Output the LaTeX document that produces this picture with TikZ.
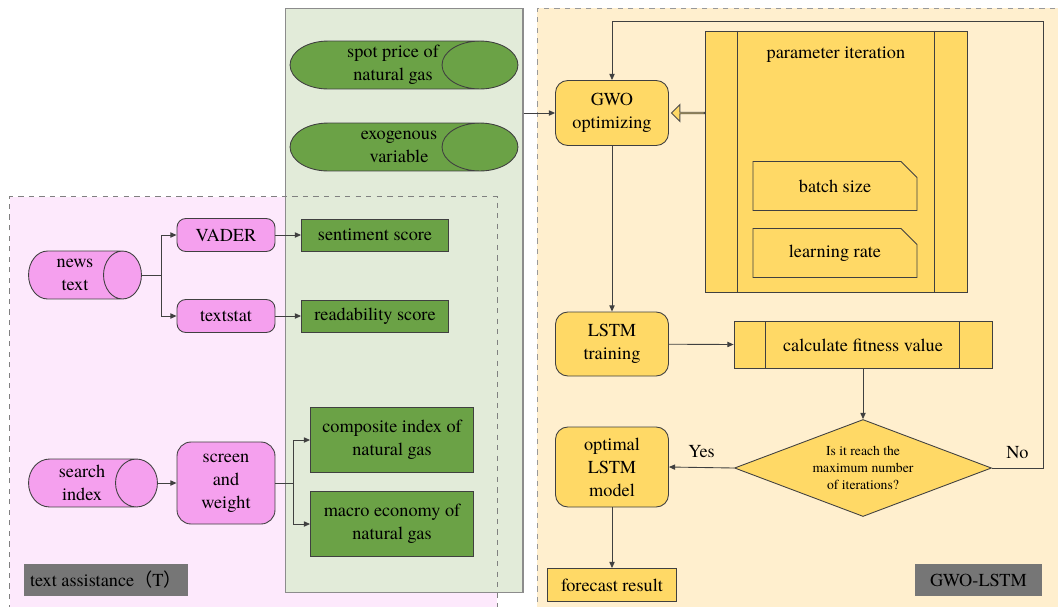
\documentclass[tikz,border=0pt]{standalone}
\usepackage{fontspec}
\setmainfont{texgyretermes}[Extension=.otf, UprightFont=*-regular, BoldFont=*-bold,
  ItalicFont=*-italic, BoldItalicFont=*-bolditalic]
\newfontfamily\cjk{Noto Sans CJK SC}
\usepackage{tikz}
\usetikzlibrary{arrows.meta,positioning,shapes.geometric,shapes.misc,shapes.arrows,calc}
\definecolor{pinkbg}{HTML}{FDE9FC}
\definecolor{greenbg}{HTML}{E2EBD9}
\definecolor{goldbg}{HTML}{FFEFCE}
\definecolor{pinknode}{HTML}{F5A0EE}
\definecolor{greennode}{HTML}{6BA246}
\definecolor{gold}{HTML}{FFD966}
\definecolor{tagfill}{HTML}{767676}

\begin{document}
\begin{tikzpicture}[x=0.02cm, y=-0.02cm,
    font=\fontsize{10.4}{13}\selectfont,
    box/.style={draw=black!75, line width=0.5pt, align=center, inner sep=1pt},
    pinkbox/.style={box, fill=pinknode, rounded corners=5pt,
                    minimum width=1.96cm, minimum height=0.66cm},
    greenbox/.style={box, fill=greennode},
    goldbox/.style={box, fill=gold, rounded corners=7pt, minimum width=2.26cm},
    drum/.style 2 args={inner sep=0pt, minimum height=0.98cm,
      path picture={
        \draw[line, fill=#1]
          ([xshift=-#2, yshift=-0.3pt]path picture bounding box.north east)
          -- ([xshift=#2, yshift=-0.3pt]path picture bounding box.north west)
          arc[start angle=90, end angle=270, x radius=#2-0.3pt, y radius=0.49cm-0.3pt]
          -- ([xshift=-#2, yshift=0.3pt]path picture bounding box.south east)
          arc[start angle=-90, end angle=90, x radius=#2-0.3pt, y radius=0.49cm-0.3pt]
          -- cycle
          ([xshift=-#2]path picture bounding box.east)
          ellipse[x radius=#2-0.3pt, y radius=0.49cm-0.3pt];
      }},
    tag/.style={fill=tagfill, minimum height=0.64cm, inner sep=2pt},
    region/.style={inner sep=0pt},
    line/.style={draw=black!75, line width=0.5pt},
    arr/.style={line, -{Triangle[length=3.5pt,width=3pt]}},
    hollow/.style={single arrow, draw=black!70, line width=0.5pt, fill=gold,
                   inner sep=0pt, minimum width=0.34cm, minimum height=0.66cm,
                   single arrow head extend=0.09cm, shape border rotate=180}
  ]
  \useasboundingbox (0,0) rectangle (1058,606);

  \node[region, fill=pinkbg, minimum width=9.74cm, minimum height=8.46cm] (textreg) at (253.5,408.5) {};
  \node[region, fill=greenbg, draw=black!45, line width=0.6pt,
        minimum width=4.76cm, minimum height=11.7cm] (inputs) at (404,300.5) {};
  \draw[draw=black!50, dashed, line width=0.6pt] (textreg.south west) -- (textreg.north west)
    -- (textreg.north east) -- (textreg.south east);
  \node[region, fill=goldbg, draw=black!40, dashed, line width=0.6pt,
        minimum width=10.66cm, minimum height=12.24cm] (modelreg) at (803.5,314) {};

  \node[drum={pinknode}{0.39cm}, minimum width=2.28cm,
        label={[align=center, xshift=-0.2cm]center:news\\text}] (news) at (85,275) {};
  \node[pinkbox] (vader) at (226,235) {VADER};
  \node[pinkbox] (textstat) at (226,316) {textstat};
  \node[greenbox, minimum width=2.94cm, minimum height=0.64cm] (senti) at (375,235) {sentiment score};
  \node[greenbox, minimum width=2.94cm, minimum height=0.64cm] (read) at (375,316) {readability score};
  \node[drum={pinknode}{0.43cm}, minimum width=2.6cm,
        label={[align=center, xshift=-0.22cm]center:search\\index}] (search) at (93,483) {};
  \node[pinkbox, rounded corners=8pt, minimum height=1.64cm] (screen) at (226,483) {screen\\and\\weight};
  \node[greenbox, minimum width=3.26cm, minimum height=1.3cm] (compo) at (392,440) {composite index of\\natural gas};
  \node[greenbox, minimum width=3.26cm, minimum height=1.3cm] (macro) at (392,524) {macro economy of\\natural gas};
  \node[tag, minimum width=3.28cm] (textlab) at (106,580) {text assistance{\cjk （}T{\cjk ）}};

  \node[drum={greennode}{0.77cm}, minimum width=4.58cm,
        label={[align=center, xshift=-0.22cm]center:spot price of\\natural gas}] (spot) at (404,65) {};
  \node[drum={greennode}{0.77cm}, minimum width=4.58cm,
        label={[align=center, xshift=-0.1cm]center:exogenous\\variable}] (exo) at (404,147) {};

  \node[goldbox, minimum height=1.3cm] (gwo) at (612,113) {GWO\\optimizing};
  \node[box, fill=gold, minimum width=5.24cm, minimum height=5.22cm,
        label={[anchor=north, yshift=-0.2cm]north:parameter iteration}] (param) at (836,161.5) {};
  \node[box, fill=gold, chamfered rectangle, chamfered rectangle corners=north east,
        chamfered rectangle xsep=0.16cm, chamfered rectangle ysep=0.16cm,
        minimum width=3.28cm, minimum height=0.98cm] (batch) at (835,186) {batch size};
  \node[box, fill=gold, chamfered rectangle, chamfered rectangle corners=north east,
        chamfered rectangle xsep=0.16cm, chamfered rectangle ysep=0.16cm,
        minimum width=3.28cm, minimum height=0.98cm] (lrate) at (835,253) {learning rate};
  \node[goldbox, minimum height=1.28cm] (lstm) at (612,344) {LSTM\\training};
  \node[box, fill=gold, minimum width=5.16cm, minimum height=0.94cm] (fit) at (863,345) {calculate fitness value};
  \node[box, diamond, fill=gold, aspect=2.65, inner sep=0pt, minimum width=5.14cm, minimum height=1.94cm,
        font=\fontsize{7.8}{9.6}\selectfont] (dec) at (863,468) {Is it reach the\\maximum number\\of iterations?};
  \node[goldbox, minimum height=1.6cm] (opt) at (612,467) {optimal\\LSTM\\model};
  \node[box, fill=gold, minimum width=2.58cm, minimum height=0.66cm] (fore) at (612,585) {forecast result};
  \node[tag, minimum width=2.54cm] (modellab) at (978.5,580) {GWO-LSTM};
  \node[hollow] (pointer) at ($(gwo.east)!0.5!(gwo.east -| param.west)+(1.5,0)$) {};
  \coordinate (loop) at (1043,21);

  \draw[line] ($(param.north west)+(33,0)$) -- ($(param.south west)+(33,0)$);
  \draw[line] ($(param.north east)+(-33,0)$) -- ($(param.south east)+(-33,0)$);
  \draw[line] ($(fit.north west)+(32,0)$) -- ($(fit.south west)+(32,0)$);
  \draw[line] ($(fit.north east)+(-33,0)$) -- ($(fit.south east)+(-33,0)$);

  \draw[arr] (news.east) -- ++(19,0) |- (vader.west);
  \draw[arr] (news.east) -- ++(19,0) |- (textstat.west);
  \draw[arr] (vader) -- (senti);
  \draw[arr] (textstat) -- (read);
  \draw[arr] (search) -- (screen);
  \draw[arr] (screen.east) -- ++(18,0) |- (compo.west);
  \draw[arr] (screen.east) -- ++(18,0) |- (macro.west);
  \draw[arr] (gwo.west -| inputs.east) -- (gwo.west);
  \draw[arr] (gwo) -- (lstm);
  \draw[arr] (lstm) -- (fit);
  \draw[arr] (fit) -- (dec);
  \draw[arr] (dec.west) -- node[above=2pt] {Yes} (opt.east);
  \draw[arr] (dec.east) -- node[above=2pt] {No} (dec.east -| loop) -- (loop) -| (gwo.north);
  \draw[arr] (opt) -- (fore);
\end{tikzpicture}
\end{document}
